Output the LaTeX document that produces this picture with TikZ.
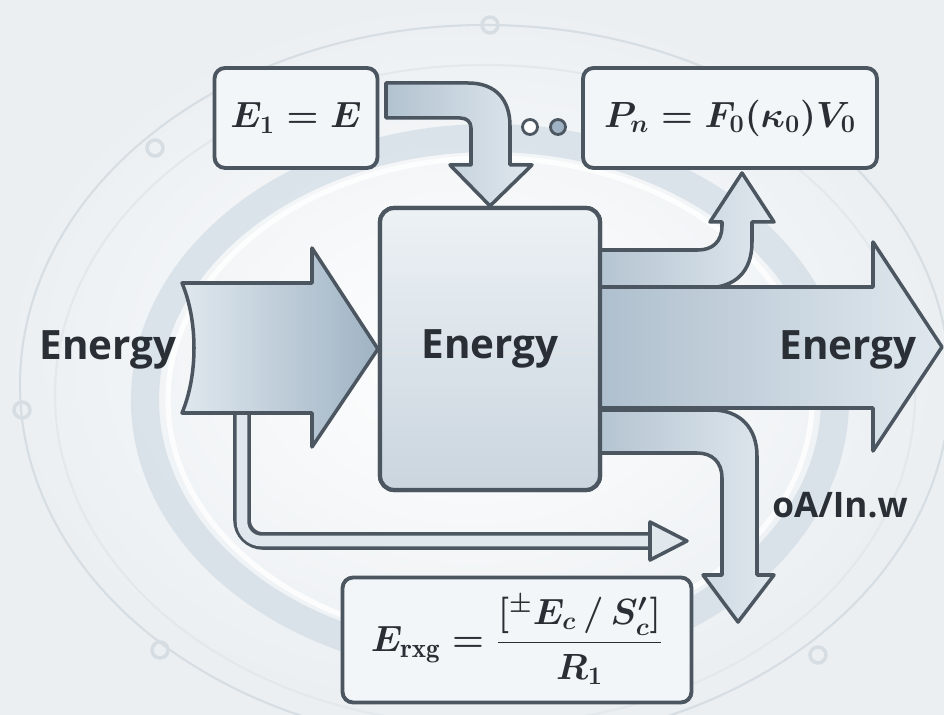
\documentclass[tikz,border=0pt]{standalone}
\usepackage{amsmath}
\usepackage{fontspec}
\newfontfamily\labelfont{Open Sans}

\definecolor{bgcol}{HTML}{EBEFF2}
\definecolor{ringcol}{HTML}{D6DEE4}
\definecolor{halocol}{HTML}{CCD8E2}
\definecolor{edgecol}{HTML}{4B5661}
\definecolor{flowdark}{HTML}{9FB3C4}
\definecolor{flowlight}{HTML}{E0E8EE}
\definecolor{boxfill}{HTML}{F3F6F8}
\definecolor{inkcol}{HTML}{2A2F35}

\tikzset{
  eqbox/.style={draw=edgecol, line width=2.2pt, rounded corners=6pt,
    fill=boxfill, text=inkcol, inner sep=0pt},
  corebox/.style={draw=edgecol, line width=2.4pt, rounded corners=8pt,
    top color=flowlight!60!white, bottom color=flowdark!55!white, inner sep=0pt},
  flow/.style={draw=edgecol, line width=2pt, line join=round,
    left color=flowdark, right color=flowlight},
  flowlabel/.style={font=\labelfont\bfseries\fontsize{23}{27}\selectfont, text=inkcol},
  eqfont/.style={font=\boldmath\fontsize{22}{26}\selectfont},
  ring/.style={draw=ringcol, line width=1.2pt},
  dot/.style={circle, draw=edgecol, line width=1.6pt, minimum size=0.3cm, inner sep=0pt}
}

\begin{document}
\begin{tikzpicture}[x=0.02cm, y=-0.02cm]
% backdrop and the faint rings behind the diagram
\useasboundingbox (0,0) rectangle (944,715);
\shade[inner color=white, outer color=bgcol] (0,0) rectangle (944,715);
\draw[ring] (485,385) ellipse [x radius=465, y radius=360];
\draw[ring, draw=ringcol!70!white] (485,395) ellipse [x radius=430, y radius=330];
\draw[halocol, line width=16pt, opacity=0.6] (490,400) ellipse [x radius=345, y radius=262];
\draw[white, line width=3pt, opacity=0.8] (490,400) ellipse [x radius=322, y radius=242];
\foreach \cx/\cy in {490/25, 155/148, 22/410, 160/650, 818/655}
  \draw[ringcol, line width=2pt] (\cx,\cy) circle [radius=8];

% the boxes
\node[corebox, minimum width=4.4cm, minimum height=5.64cm] (core) at (490,349) {};
\node[eqbox, eqfont, minimum width=3.26cm, minimum height=2cm] (e1) at (296,118)
  {$E_{1} = E$};
\node[eqbox, eqfont, font=\boldmath\fontsize{20.5}{24}\selectfont, minimum width=5.88cm,
  minimum height=2cm] (pbox) at (730,118) {$P_{n} = F_{0}(\kappa_{0})V_{0}$};
\node[eqbox, eqfont, minimum width=6.98cm, minimum height=2.5cm] (eavg) at (517,640)
  {$E_{\mathrm{rxg}} = \dfrac{[{}^{\pm}E_{c}\,/\,S'_{c}]}{R_{1}}$};

% feedback loop under the input arrow
\coordinate (loopstart) at (242,405);
\coordinate (loopend) at (652,541);
\draw[edgecol, line width=10pt, rounded corners=12pt] (loopstart) |- (loopend);
\draw[flowlight, line width=6pt, rounded corners=11pt] (loopstart) |- (loopend);
\filldraw[fill=flowlight, draw=edgecol, line width=2pt, line join=round]
  (650,522) -- (687,541) -- (650,560) -- cycle;

% input arrow
\filldraw[flow, left color=flowlight, right color=flowdark] (182,283) -- (312,283)
  -- (312,248) -- (core.west) -- (312,447) -- (312,413) -- (182,413)
  .. controls (198,375) and (198,321) .. (182,283) -- cycle;
\node[flowlabel] (inlabel) at (108,350) {Energy};

% bent arrow from E1 into the core
\filldraw[flow, left color=flowdark!80!white] (386,83) -- (468,83)
  .. controls (496,83) and (510,100) .. (510,126) -- (510,165) -- (532,165)
  -- (core.north) -- (450,165) -- (471,165) -- (471,128)
  .. controls (471,122) and (467,118) .. (460,118) -- (386,118) -- cycle;
\node[dot, fill=white] (dota) at (530,127) {};
\node[dot, fill=flowdark] (dotb) at (558,127) {};

% branch up to P
\filldraw[flow, left color=flowdark!80!white] (590,250) -- (698,250)
  .. controls (712,250) and (722,242) .. (722,226) -- (722,222) -- (710,222)
  -- (742,173) -- (774,222) -- (752,222) -- (752,242)
  .. controls (752,272) and (735,288) .. (705,288) -- (590,288) -- cycle;

% branch down past E_rxg
\filldraw[flow, left color=flowdark!80!white] (590,410) -- (712,410)
  .. controls (740,410) and (757,428) .. (757,456) -- (757,575) -- (774,575)
  -- (738,622) -- (703,575) -- (722,575) -- (722,478)
  .. controls (722,462) and (712,453) .. (697,453) -- (590,453) -- cycle;
\node[flowlabel, font=\labelfont\bfseries\fontsize{20}{24}\selectfont] (lossl)
  at (840,505) {oA/In.w};

% output arrow
\filldraw[flow, left color=flowdark!85!white] (590,287) -- (873,287) -- (873,242)
  -- (942,347) -- (873,451) -- (873,408) -- (590,408) -- cycle;
\node[flowlabel] (outlabel) at (848,350) {Energy};

% core drawn again on top so the arrows tuck under it
\node[corebox, minimum width=4.4cm, minimum height=5.64cm] at (core) {};
\node[flowlabel] (corelabel) at (core) {Energy};
\end{tikzpicture}
\end{document}
